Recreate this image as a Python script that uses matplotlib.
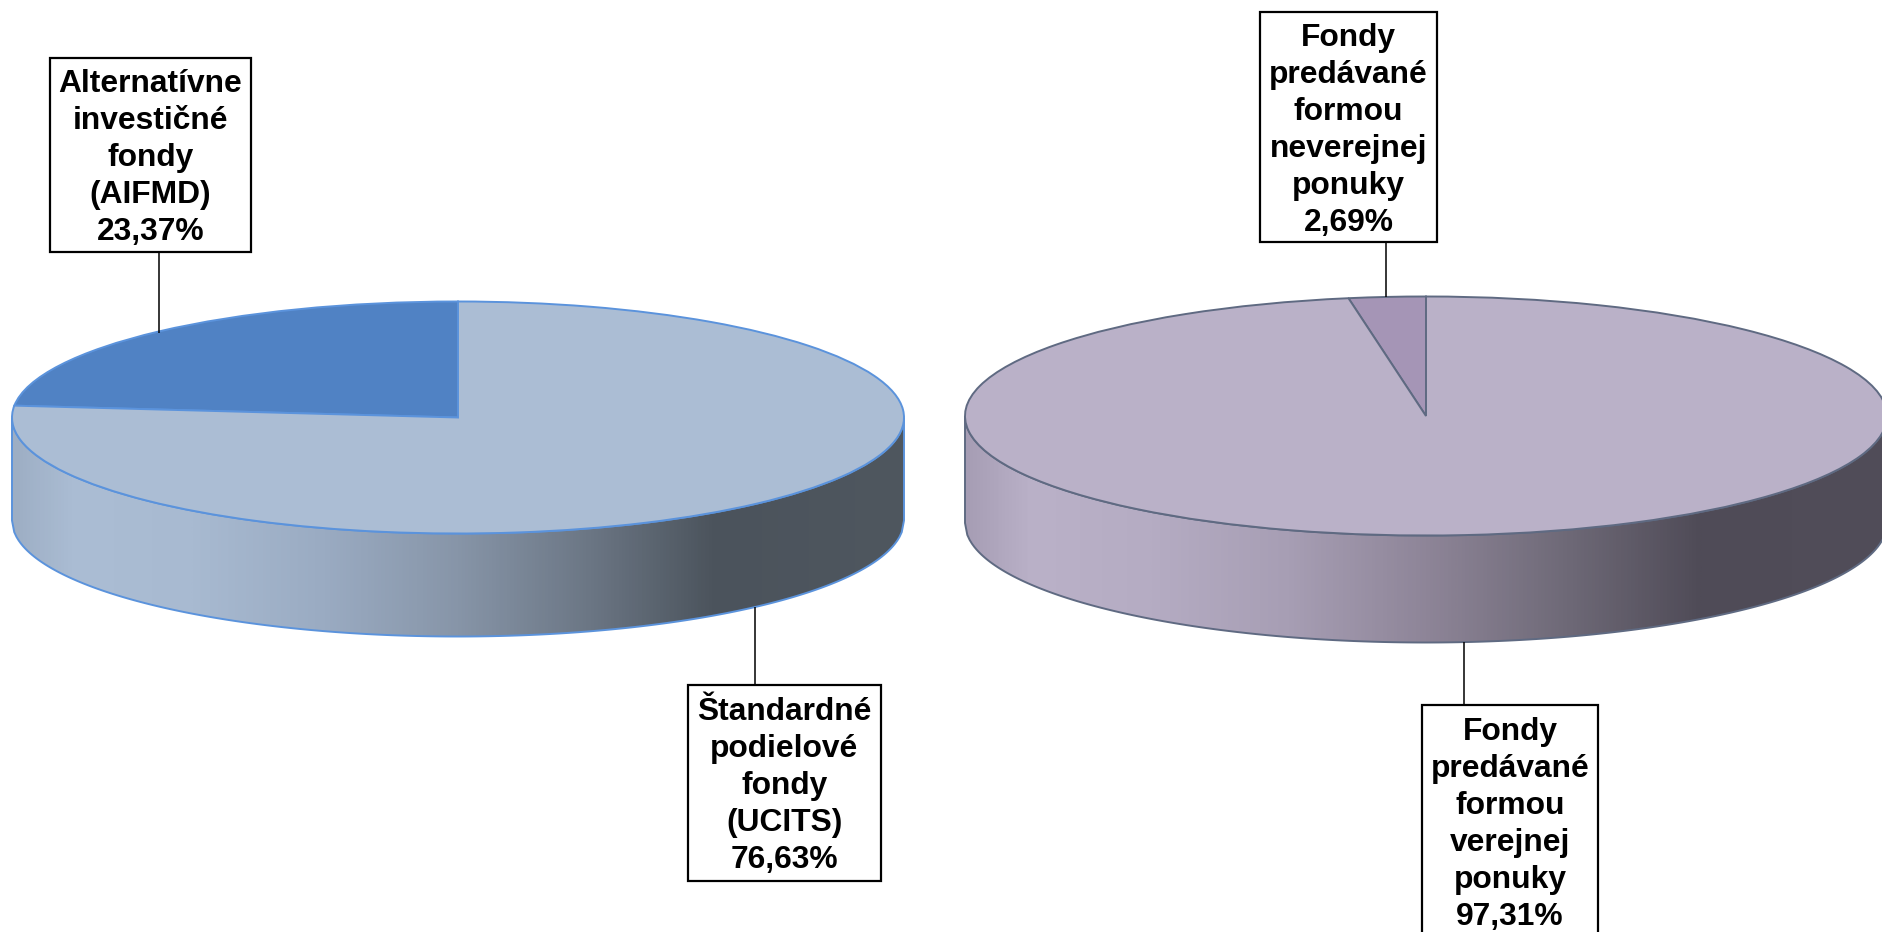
import numpy as np
import matplotlib
matplotlib.use("Agg")
from matplotlib import pyplot as plt
from matplotlib.colors import LinearSegmentedColormap
from matplotlib.patches import Polygon, Rectangle

W, H = 1883, 932

# data
left_shares = [23.37, 76.63]
left_labels = ["Alternatívne\ninvestičné\nfondy\n(AIFMD)\n23,37%",
               "Štandardné\npodielové\nfondy\n(UCITS)\n76,63%"]
right_shares = [2.69, 97.31]
right_labels = ["Fondy\npredávané\nformou\nneverejnej\nponuky\n2,69%",
                "Fondy\npredávané\nformou\nverejnej\nponuky\n97,31%"]

plt.rcParams['font.family'] = ['Liberation Sans', 'DejaVu Sans']
fig = plt.figure(figsize=(W / 100, H / 100), dpi=100, facecolor='white')


def pie3d(shares, cx, cy, rx, ry, depth, colors, edge, wall_stops):
    # axes are sized so the unit circle of the pie lands on the ellipse in pixels
    d = depth / ry
    ax = fig.add_axes([(cx - 1.25 * rx) / W, 1 - (cy + (1.25 + d) * ry) / H,
                       2.5 * rx / W, (2.5 + d) * ry / H])
    ax.pie(shares, colors=colors, startangle=90, counterclock=True, radius=1,
           wedgeprops={'edgecolor': edge, 'linewidth': 1.4, 'zorder': 3})
    ax.set_aspect('auto')

    x = np.linspace(-1, 1, 400)
    low = -np.sqrt(1 - x ** 2)
    cmap = LinearSegmentedColormap.from_list('wall', wall_stops)
    img = ax.imshow(np.linspace(0, 1, 800)[None, :], cmap=cmap, aspect='auto',
                    extent=(-1, 1, -1 - d, 0), zorder=1)
    outline = np.r_[np.c_[x, low], np.c_[x[::-1], low[::-1] - d]]
    clip = Polygon(outline, closed=True, transform=ax.transData, facecolor='none',
                   edgecolor=edge, linewidth=1.4, zorder=2)
    ax.add_patch(clip)
    img.set_clip_path(clip)
    ax.set_xlim(-1.25, 1.25)
    ax.set_ylim(-1.25 - d, 1.25)
    ax.axis('off')
    return ax


pie3d(left_shares, 458, 417.5, 446, 116, 103, ['#5082C4', '#ABBDD4'], '#5B93DC',
      [(0, '#9DAEC4'), (0.07, '#ABBDD4'), (0.2, '#A8BAD1'), (0.35, '#9AABC2'),
       (0.5, '#8795A8'), (0.65, '#6B7684'), (0.79, '#4B535C'), (1, '#4F575F')])
pie3d(right_shares, 1426, 416, 461, 119.5, 107, ['#A595B6', '#BAB1C8'], '#5F6A82',
      [(0, '#A69DB4'), (0.07, '#BAB1C8'), (0.2, '#B5ACC3'), (0.35, '#A79EB4'),
       (0.5, '#8E8598'), (0.65, '#6F6A78'), (0.8, '#4F4B57'), (1, '#514D59')])

# labels and leader lines in pixel coordinates
over = fig.add_axes([0, 0, 1, 1], zorder=5)
over.set_xlim(0, W)
over.set_ylim(H, 0)
over.axis('off')

boxes = [
    (left_labels[0], 50, 58, 201, 193.5, 159.5, 251, 333),
    (left_labels[1], 688, 684.5, 193, 196, 755, 607, 685),
    (right_labels[0], 1260, 12, 177, 229.5, 1386, 241, 297),
    (right_labels[1], 1422, 705, 176, 232, 1464, 642, 705),
]
for text, bx, by, bw, bh, lx, ly0, ly1 in boxes:
    over.plot([lx, lx], [ly0, ly1], color='black', lw=1.1, solid_capstyle='butt')
    over.add_patch(Rectangle((bx, by), bw, bh, facecolor='white', edgecolor='black', lw=1.6))
    over.text(bx + bw / 2, by + bh / 2 + 3.5, text, ha='center', va='center', fontsize=22.9,
              fontweight='bold', color='black', linespacing=1.3)

fig.savefig('out.png', dpi=100)
